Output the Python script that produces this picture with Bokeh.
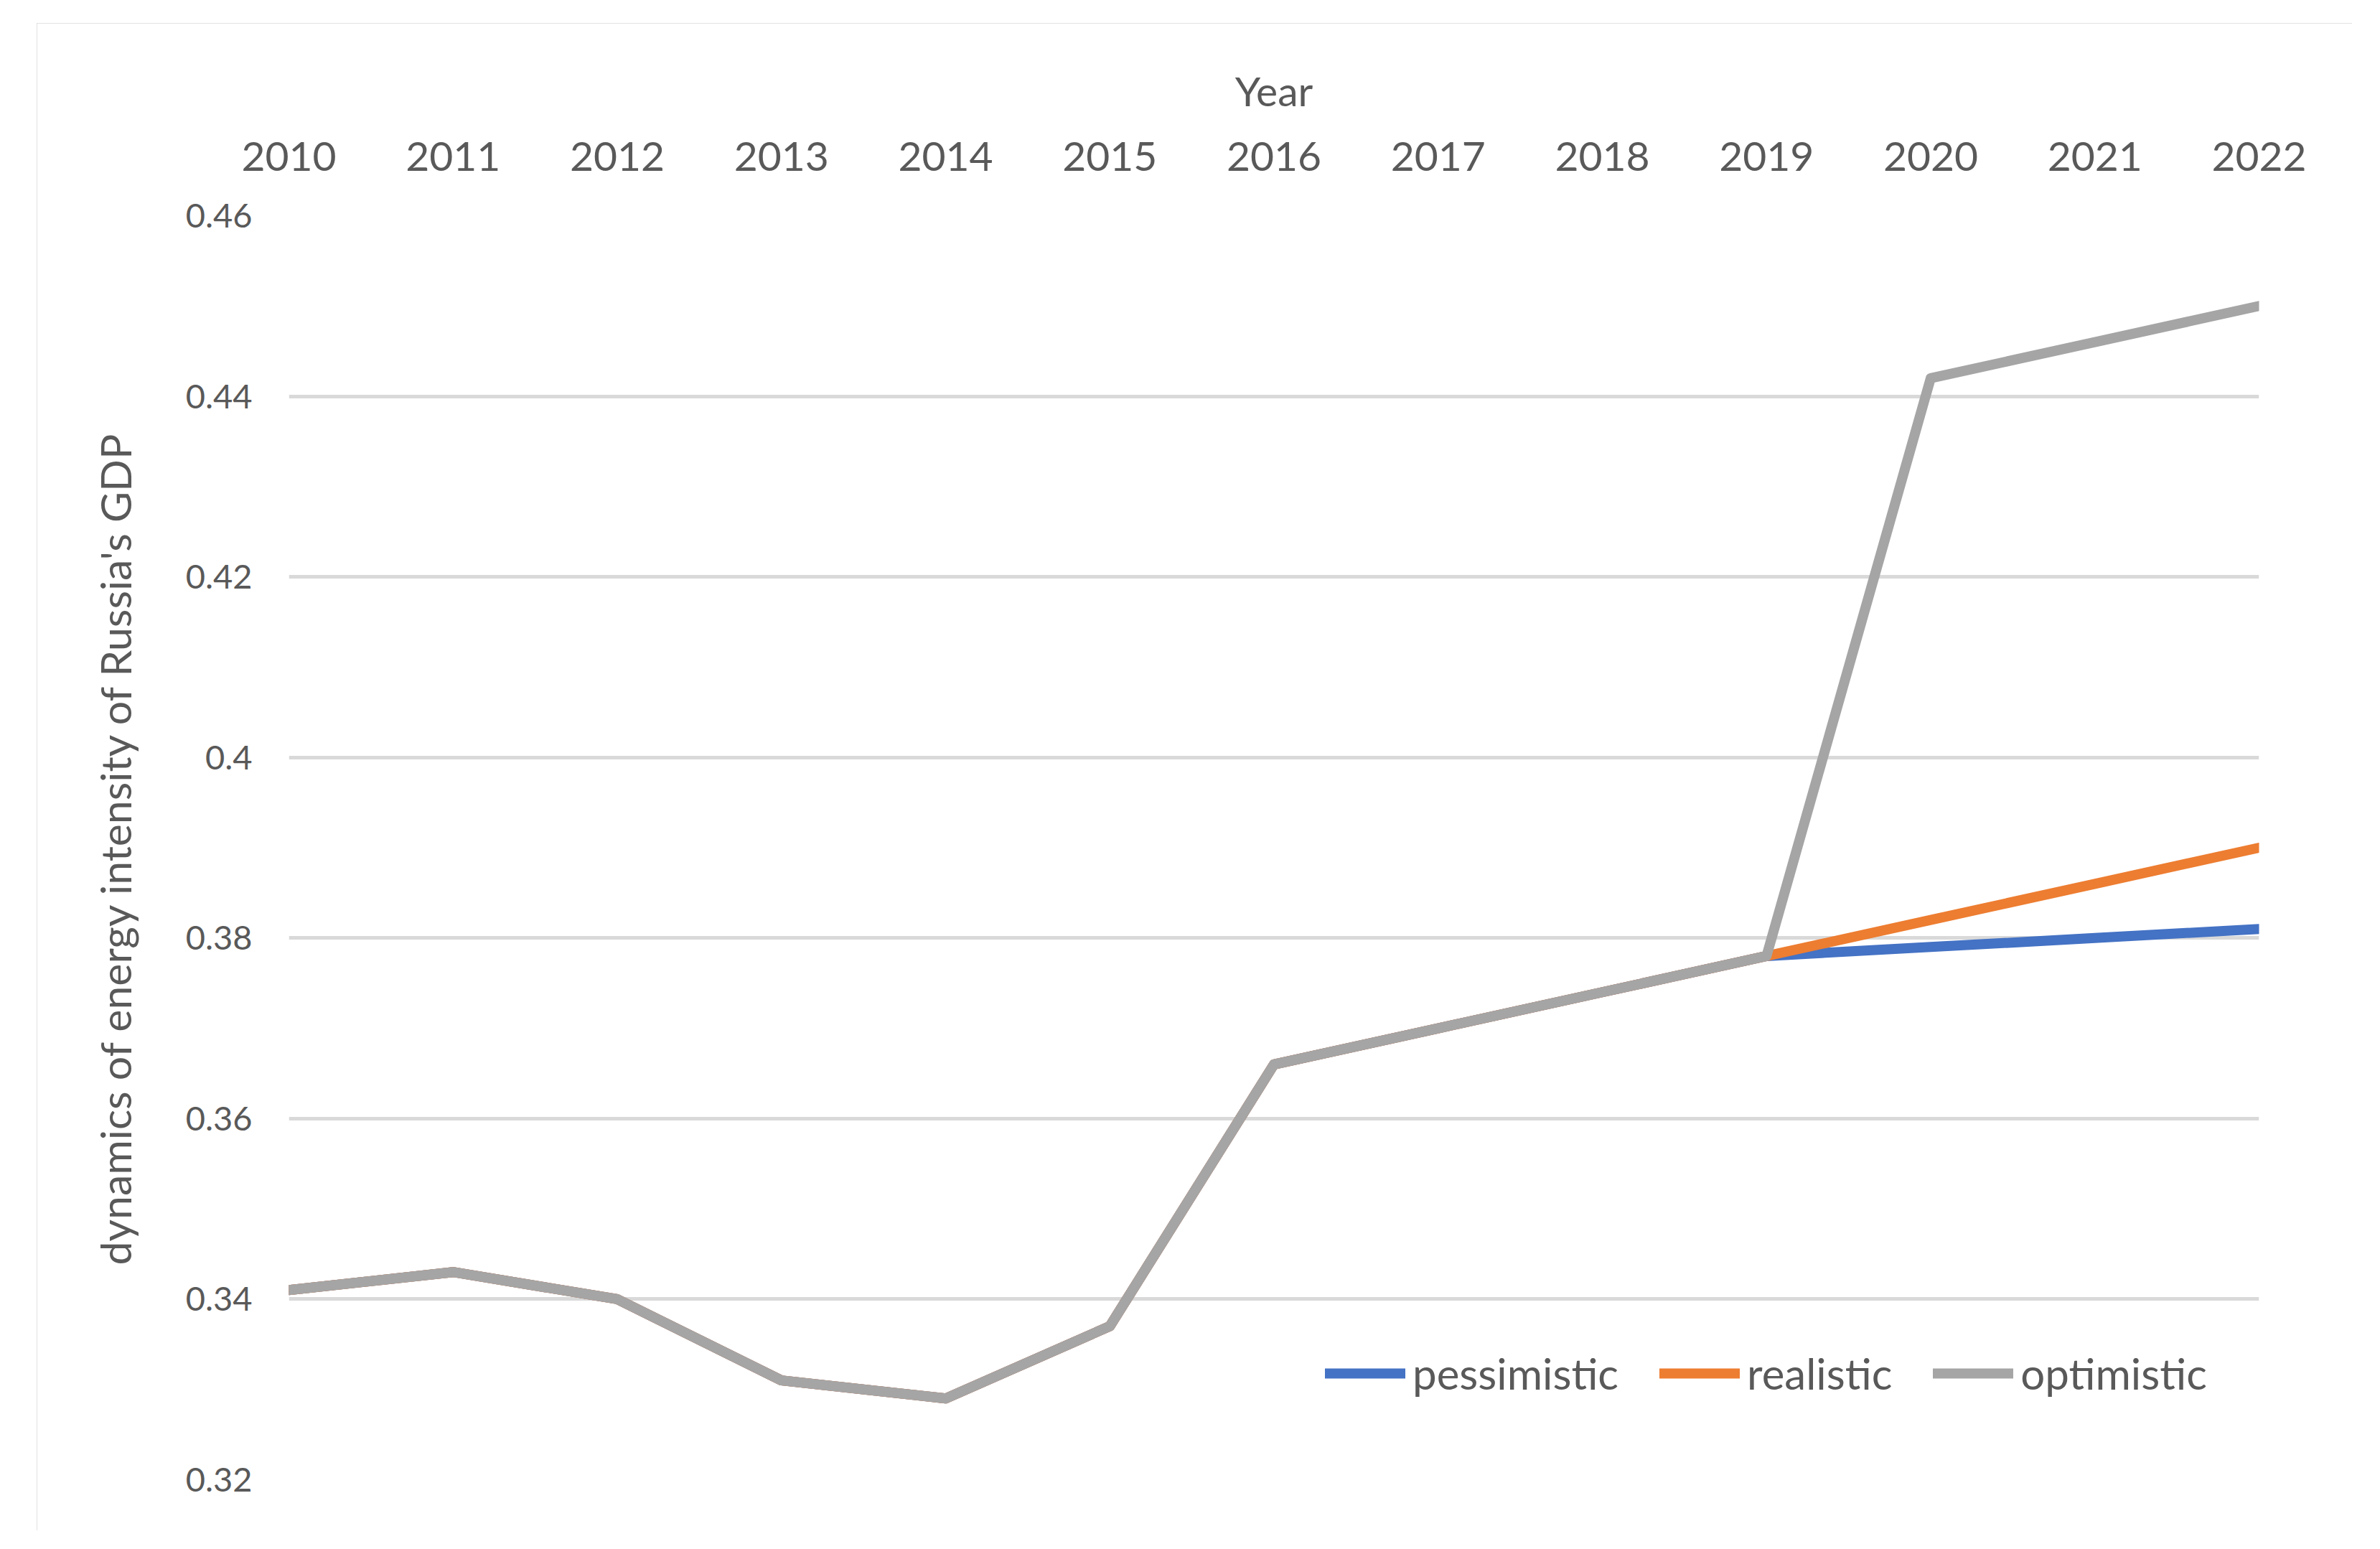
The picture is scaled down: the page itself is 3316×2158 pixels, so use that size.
from bokeh.plotting import figure
from bokeh.models import FixedTicker, Legend, LegendItem, Range1d, BoxAnnotation
from bokeh.embed import file_html
from bokeh.resources import INLINE

# ---- data ----
years = [2010, 2011, 2012, 2013, 2014, 2015, 2016, 2017, 2018, 2019, 2020, 2021, 2022]
pessimistic = [0.341, 0.343, 0.340, 0.331, 0.329, 0.337, 0.366, 0.370, 0.374, 0.378, 0.379, 0.380, 0.381]
realistic = [0.341, 0.343, 0.340, 0.331, 0.329, 0.337, 0.366, 0.370, 0.374, 0.378, 0.382, 0.386, 0.390]
optimistic = [0.341, 0.343, 0.340, 0.331, 0.329, 0.337, 0.366, 0.370, 0.374, 0.378, 0.442, 0.446, 0.450]
series_names = ["pessimistic", "realistic", "optimistic"]
series_colors = ["#4472C4", "#ED7D31", "#A5A5A5"]
y_ticks = [0.32, 0.34, 0.36, 0.38, 0.40, 0.42, 0.44, 0.46]
y_tick_labels = ["0.32", "0.34", "0.36", "0.38", "0.4", "0.42", "0.44", "0.46"]
x_tick_labels = [str(y) for y in years]
x_title = "Year"
y_title = "dynamics of energy intensity of Russia's GDP"

FONT = "Lato"
TXT = "#595959"
W, H = 3226, 2100
BW = 6

p = figure(
    frame_width=2745, frame_height=1761,
    x_range=Range1d(years[0], years[-1]), y_range=Range1d(y_ticks[0], y_ticks[-1]),
    output_backend="svg", toolbar_location=None, x_axis_location="above",
    min_border_left=351, min_border_right=130, min_border_top=268, min_border_bottom=71,
    background_fill_color="white", border_fill_color="white",
)
p.margin = (32, 0, 0, 51)
p.styles = {"outline": f"{BW}px solid #d9d9d9", "outline-offset": f"-{BW}px"}
p.outline_line_color = None

# outer chart-area border
p.add_layout(BoxAnnotation(
    left=BW / 2, right=W - BW / 2, top=BW / 2, bottom=H - BW / 2,
    left_units="canvas", right_units="canvas", top_units="canvas", bottom_units="canvas",
    fill_alpha=0, line_color="#D9D9D9", line_width=BW, level="overlay",
))

# axes
xa = p.xaxis[0]
xa.ticker = FixedTicker(ticks=years)
xa.major_label_overrides = dict(zip(years, x_tick_labels))
xa.axis_label = x_title
ya = p.yaxis[0]
ya.ticker = FixedTicker(ticks=y_ticks)
ya.major_label_overrides = dict(zip(y_ticks, y_tick_labels))
ya.axis_label = y_title

for ax in (xa, ya):
    ax.axis_line_color = None
    ax.major_tick_line_color = None
    ax.minor_tick_line_color = None
    ax.major_label_text_font = FONT
    ax.major_label_text_color = TXT
    ax.axis_label_text_font = FONT
    ax.axis_label_text_color = TXT
    ax.axis_label_text_font_style = "normal"

xa.major_label_text_font_size = "57px"
xa.major_label_standoff = 57
xa.axis_label_standoff = 35
xa.axis_label_text_font_size = "57px"
ya.major_label_text_font_size = "47px"
ya.major_label_standoff = 45
ya.axis_label_standoff = 60
ya.axis_label_text_font_size = "59px"

p.xgrid.grid_line_color = None
p.ygrid.ticker = FixedTicker(ticks=y_ticks)
p.ygrid.grid_line_color = "#D9D9D9"
p.ygrid.grid_line_width = 5

series = [pessimistic, realistic, optimistic]
items = []
for name, col, vals in zip(series_names, series_colors, series):
    r = p.line(years, vals, line_color=col, line_width=14, line_cap="round", line_join="round")
    items.append(LegendItem(label=name, renderers=[r]))

legend = Legend(
    items=items, orientation="horizontal", location=(1444, 112),
    glyph_width=112, glyph_height=60, label_height=60, label_standoff=10, spacing=57,
    padding=0, margin=0, border_line_color=None, background_fill_alpha=0,
    label_text_font=FONT, label_text_font_size="60px", label_text_color=TXT,
)
p.add_layout(legend, "center")

open("out.html", "w").write(file_html(p, INLINE))
